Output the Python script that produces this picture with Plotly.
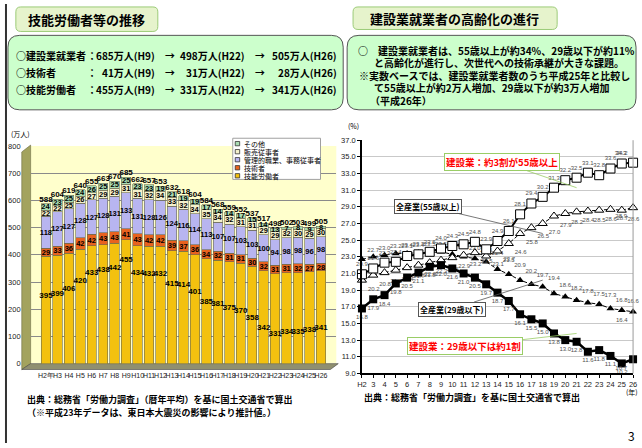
import plotly.graph_objects as go

W, H = 642, 448


def px_x(v):
    return v / W


def px_y(v):
    return 1 - v / H


# ---------------- left chart data (万人) ----------------
years_left = ["H2年", "H3", "H4", "H5", "H6", "H7", "H8", "H9", "H10", "H11", "H12", "H13",
              "H14", "H15", "H16", "H17", "H18", "H19", "H20", "H21", "H22", "H23", "H24", "H25", "H26"]
skilled = [395, 399, 406, 420, 433, 438, 442, 455, 434, 432, 432, 415, 414, 401, 385, 381, 375,
           370, 358, 342, 331, 334, 335, 338, 341]
engineers = [29, 33, 36, 42, 42, 43, 43, 41, 43, 42, 42, 39, 37, 36, 34, 32, 31, 31, 30, 32, 31,
             31, 32, 27, 28]
clerical = [118, 127, 127, 128, 127, 128, 131, 133, 131, 128, 126, 124, 116, 114, 113, 107, 107,
            103, 103, 100, 94, 98, 98, 96, 98]
sales = [22, 22, 25, 26, 27, 29, 29, 31, 31, 32, 34, 33, 32, 34, 35, 34, 32, 31, 31, 29, 29, 32,
         30, 29, 30]
other = [24, 23, 25, 24, 26, 25, 25, 25, 23, 23, 19, 21, 19, 19, 17, 14, 14, 17, 15, 14, 13, 7,
         8, 9, 8]
totals = [588, 604, 619, 640, 655, 663, 670, 685, 662, 657, 653, 632, 618, 604, 584, 568, 559,
          552, 537, 517, 498, 502, 503, 499, 505]
left_ticks = [0, 100, 200, 300, 400, 500, 600, 700, 800]

# ---------------- right chart data (%) ----------------
years_right = ["H2", "3", "4", "5", "6", "7", "8", "9", "10", "11", "12", "13", "14", "15", "16",
               "17", "18", "19", "20", "21", "22", "23", "24", "25", "26"]
con55 = [20.9, 21.6, 22.3, 22.4, 23.1, 23.3, 23.6, 24.0, 24.3, 24.5, 24.8, 23.9, 24.9, 26.1,
         28.1, 29.4, 30.2, 31.3, 32.2, 32.5, 33.1, 32.8, 33.6, 34.2, 34.3]
all55 = [20.2, 20.8, 21.1, 21.4, 21.7, 22.0, 22.3, 22.6, 22.9, 23.2, 23.5, 23.1, 23.7, 24.6,
         25.8, 26.5, 27.0, 27.9, 28.2, 28.4, 28.5, 28.6, 28.7, 28.6, 28.9]
con29 = [16.8, 17.9, 18.4, 19.8, 20.5, 21.1, 21.8, 22.0, 21.6, 21.0, 20.5, 19.7, 18.7, 17.7,
         16.1, 15.5, 15.0, 13.8, 13.0, 12.8, 11.6, 11.8, 11.1, 10.2, 10.7]
all29 = [22.7, 23.0, 23.2, 23.4, 23.4, 23.5, 23.5, 23.6, 23.3, 23.0, 22.8, 22.4, 21.5, 20.9,
         20.2, 19.7, 19.4, 18.6, 18.2, 17.8, 17.5, 17.3, 16.8, 16.6, 16.4]

col_skilled = "#f3c10f"
col_eng = "#e8621e"
col_cler = "#b8b5f0"
col_sales = "#f4f1cc"
col_other = "#a9dcb3"

FONT = "Noto Sans CJK JP"
NUMF = "Liberation Sans"

L_X0, L_X1, L_YB, L_YT = 26, 336, 367, 145
R_X0, R_X1, R_YB, R_YT = 362, 637, 377, 139
R_YMIN, R_YMAX = 9, 37

fig = go.Figure()

for name, vals, col in [("技能労働者", skilled, col_skilled), ("技術者", engineers, col_eng),
                        ("管理的職業、事務従事者", clerical, col_cler), ("販売従事者", sales, col_sales),
                        ("その他", other, col_other)]:
    show_text = name != "技能労働者"
    fig.add_trace(go.Bar(
        x=years_left, y=vals, name=name, xaxis="x", yaxis="y",
        marker=dict(color=col, line=dict(color="#6b6b50", width=0.6)),
        text=["<b>%d</b>" % v for v in vals] if show_text else None,
        textposition="inside" if show_text else "none",
        insidetextanchor="middle", textangle=0,
        textfont=dict(family=NUMF, size=7.5, color="black"),
        hoverinfo="x+y+name", showlegend=False))

skilled_label_pos = [2.2 * v - 620 for v in skilled]
fig.add_trace(go.Scatter(
    x=years_left, y=skilled_label_pos, mode="text", xaxis="x", yaxis="y",
    text=["<b>%d</b>" % v for v in skilled], textposition="middle center",
    textfont=dict(family=NUMF, size=8, color="black"), showlegend=False, hoverinfo="skip"))

fig.add_trace(go.Scatter(
    x=years_left, y=totals, mode="text", xaxis="x", yaxis="y",
    text=["<b>%d</b>" % v for v in totals], textposition="top center",
    textfont=dict(family=NUMF, size=8, color="black"), showlegend=False, hoverinfo="skip",
    cliponaxis=False))


def positions(default, last):
    return [default] * (len(years_right) - 1) + [last]


lab_font = dict(family=NUMF, size=6, color="#505050")
fig.add_trace(go.Scatter(
    x=years_right, y=all29, mode="lines+markers+text", xaxis="x2", yaxis="y2",
    name="全産業(29歳以下)", line=dict(color="black", width=1, dash="4px,2px"),
    marker=dict(symbol="triangle-up", size=7, color="black"),
    text=["%.1f" % v for v in all29], textposition=positions("top right", "bottom left"),
    textfont=lab_font, cliponaxis=False, showlegend=False))
fig.add_trace(go.Scatter(
    x=years_right, y=all55, mode="lines+markers+text", xaxis="x2", yaxis="y2",
    name="全産業(55歳以上)", line=dict(color="black", width=1, dash="4px,2px"),
    marker=dict(symbol="triangle-up", size=8, color="white", line=dict(color="black", width=1)),
    text=["%.1f" % v for v in all55], textposition=positions("bottom right", "bottom left"),
    textfont=lab_font, cliponaxis=False, showlegend=False))
fig.add_trace(go.Scatter(
    x=years_right, y=con29, mode="lines+markers+text", xaxis="x2", yaxis="y2",
    name="建設業(29歳以下)", line=dict(color="black", width=2.5),
    marker=dict(symbol="square", size=8, color="black"),
    text=["%.1f" % v for v in con29], textposition=positions("bottom center", "bottom left"),
    textfont=lab_font, cliponaxis=False, showlegend=False))
fig.add_trace(go.Scatter(
    x=years_right, y=con55, mode="lines+markers+text", xaxis="x2", yaxis="y2",
    name="建設業(55歳以上)", line=dict(color="black", width=2),
    marker=dict(symbol="square", size=9, color="white", line=dict(color="black", width=1)),
    text=["%.1f" % v for v in con55], textposition=positions("top center", "top left"),
    textfont=lab_font, cliponaxis=False, showlegend=False))

fig.update_layout(
    width=W, height=H, margin=dict(l=0, r=0, t=0, b=0),
    paper_bgcolor="white", plot_bgcolor="white",
    barmode="stack", bargap=0.18, showlegend=False,
    font=dict(family=FONT, size=8, color="black"),
    uniformtext=dict(minsize=7, mode="show"),
    xaxis=dict(domain=[px_x(L_X0), px_x(L_X1)], anchor="y", type="category",
               tickfont=dict(family=NUMF, size=7, color="#222"), tickangle=0, showgrid=False,
               showline=False, ticks="", fixedrange=True, ticklabelstandoff=6),
    yaxis=dict(domain=[px_y(L_YB), px_y(L_YT)], anchor="x", range=[0, 800], tickvals=left_ticks,
               showgrid=True, gridcolor="#8a8a8a", gridwidth=1, zeroline=False,
               tickfont=dict(family=NUMF, size=7.5, color="#222"), ticklabelstandoff=9,
               showline=False),
    xaxis2=dict(domain=[px_x(R_X0), px_x(R_X1)], anchor="y2", type="category", range=[0, 24],
                showgrid=False, showline=True, linecolor="black", linewidth=1.5,
                ticks="outside", ticklen=3, tickcolor="black", tickangle=0,
                tickfont=dict(family=NUMF, size=7.5, color="#222")),
    yaxis2=dict(domain=[px_y(R_YB), px_y(R_YT)], anchor="x2", range=[R_YMIN, R_YMAX], tick0=9,
                dtick=2, tickformat=".1f", showgrid=True, gridcolor="#c9c9c9", gridwidth=1,
                zeroline=False, showline=True, linecolor="black", linewidth=1.5,
                ticks="outside", ticklen=3, tickcolor="black",
                tickfont=dict(family=NUMF, size=7.5, color="#222")),
)


def rrect(x0, y0, x1, y1, r):
    return ("M {a},{b} L {c},{b} Q {d},{b} {d},{e} L {d},{f} Q {d},{g} {c},{g} "
            "L {a},{g} Q {h},{g} {h},{f} L {h},{e} Q {h},{b} {a},{b} Z").format(
        a=px_x(x0 + r), b=px_y(y0), c=px_x(x1 - r), d=px_x(x1), e=px_y(y0 + r),
        f=px_y(y1 - r), g=px_y(y1), h=px_x(x0))


def poly(pts):
    return "M " + " L ".join("%f,%f" % (px_x(a), px_y(b)) for a, b in pts) + " Z"


shapes = []
shapes.append(dict(type="line", xref="paper", yref="paper", x0=px_x(1), x1=px_x(1), y0=0, y1=1,
                   line=dict(color="#333333", width=2)))
shapes.append(dict(type="path", xref="paper", yref="paper", path=rrect(11, 3, 155, 28, 5),
                   fillcolor="#e6f3cc", line=dict(color="#9ccb78", width=1)))
shapes.append(dict(type="path", xref="paper", yref="paper", path=rrect(353, 3, 560, 26, 5),
                   fillcolor="#e6f3cc", line=dict(color="#9ccb78", width=1)))
shapes.append(dict(type="path", xref="paper", yref="paper", path=rrect(3, 32, 343, 108, 12),
                   fillcolor="#ccffcc", line=dict(color="#555555", width=1)))
shapes.append(dict(type="path", xref="paper", yref="paper", path=rrect(347, 32, 640, 108, 12),
                   fillcolor="#ccffcc", line=dict(color="#555555", width=1)))
shapes.append(dict(type="rect", xref="x domain", yref="y domain", x0=0, x1=1, y0=0, y1=1,
                   fillcolor="#ffffcc", line=dict(width=0), layer="below"))
shapes.append(dict(type="path", xref="paper", yref="paper",
                   path=poly([(17, 373), (17, 151), (26, 144), (26, 367)]),
                   fillcolor="#a3a35e", line=dict(color="#6b6b40", width=0.6), layer="below"))
shapes.append(dict(type="path", xref="paper", yref="paper",
                   path=poly([(17, 373), (26, 367), (338, 367), (330, 373)]),
                   fillcolor="#8f8f70", line=dict(color="#444", width=0.6), layer="below"))
shapes.append(dict(type="line", xref="paper", yref="paper", x0=px_x(R_X1), x1=px_x(R_X1),
                   y0=px_y(R_YB), y1=px_y(R_YT), line=dict(color="#9a9a9a", width=1)))
shapes.append(dict(type="rect", xref="paper", yref="paper", x0=px_x(231), x1=px_x(320),
                   y0=px_y(179), y1=px_y(137), fillcolor="white",
                   line=dict(color="#a0a0a0", width=1)))

annotations = []


def txt(x, y, s, size=10, anchor="left", color="black", family=FONT, bold=True):
    annotations.append(dict(x=px_x(x), y=px_y(y), xref="paper", yref="paper",
                            text=("<b>%s</b>" % s) if bold else s, showarrow=False,
                            xanchor=anchor, yanchor="middle",
                            font=dict(family=family, size=size, color=color)))


txt(83, 16, "技能労働者等の推移", size=13, anchor="center")
txt(456, 15, "建設業就業者の高齢化の進行", size=13, anchor="center")

rows_label = ["○建設業就業者", "○技術者", "○技能労働者"]
rows_h9 = ["685万人(H9)", "41万人(H9)", "455万人(H9)"]
rows_h22 = ["498万人(H22)", "31万人(H22)", "331万人(H22)"]
rows_h26 = ["505万人(H26)", "28万人(H26)", "341万人(H26)"]
for i, yy in enumerate([53, 70, 87]):
    txt(9, yy, rows_label[i], size=10)
    txt(88, yy, "：", size=10, anchor="center")
    txt(154, yy, rows_h9[i], size=10, anchor="right")
    txt(167, yy, "→", size=10, anchor="center")
    txt(245, yy, rows_h22[i], size=10, anchor="right")
    txt(259, yy, "→", size=10, anchor="center")
    txt(339, yy, rows_h26[i], size=10, anchor="right")

right_lines = [(356, 47, "○　建設業就業者は、55歳以上が約34%、29歳以下が約11%"),
               (372, 60, "と高齢化が進行し、次世代への技術承継が大きな課題。"),
               (357, 73, "※実数ベースでは、建設業就業者数のうち平成25年と比較し"),
               (372, 85, "て55歳以上が約2万人増加、29歳以下が約3万人増加"),
               (368, 98, "（平成26年）")]
for x, y, s in right_lines:
    txt(x, y, s, size=10)

txt(4, 133, "(万人)", size=7, bold=False)
txt(346, 124, "(%)", size=7, bold=False)
txt(628, 396, "(年)", size=7, bold=False)

txt(20, 404, "出典：総務省「労働力調査」（暦年平均）を基に国土交通省で算出", size=9)
txt(20, 417, "（※平成23年データは、東日本大震災の影響により推計値。）", size=9)
txt(362, 402, "出典：総務省「労働力調査」を基に国土交通省で算出", size=9)
txt(635, 440, "3", size=12, anchor="center", bold=False)

leg = [("その他", col_other), ("販売従事者", col_sales), ("管理的職業、事務従事者", col_cler),
       ("技術者", col_eng), ("技能労働者", col_skilled)]
for i, (name, col) in enumerate(leg):
    yy = 142.5 + i * 8.2
    shapes.append(dict(type="rect", xref="paper", yref="paper", x0=px_x(233.5), x1=px_x(238),
                       y0=px_y(yy + 2.2), y1=px_y(yy - 2.2), fillcolor=col,
                       line=dict(color="#333", width=0.8)))
    txt(240, yy, name, size=7, bold=False)

px_per_idx = (R_X1 - R_X0) / 24.0
px_per_val = (R_YB - R_YT) / float(R_YMAX - R_YMIN)


def callout(idx, series, box_idx, box_val, text, color, border, size):
    annotations.append(dict(
        x=years_right[idx], y=series[idx], xref="x2", yref="y2",
        text="<b>%s</b>" % text, showarrow=True, arrowhead=0, arrowwidth=0.8,
        arrowcolor=border, ax=(box_idx - idx) * px_per_idx,
        ay=-(box_val - series[idx]) * px_per_val,
        bgcolor="white", bordercolor=border, borderwidth=1, borderpad=1,
        font=dict(family=FONT, size=size, color=color)))


callout(14, all55, 4.0, 29.0, "全産業(55歳以上)", "black", "#555555", 8)
callout(14, all29, 6.1, 16.8, "全産業(29歳以下)", "black", "#555555", 8)
callout(17, con55, 10.5, 34.3, "建設業：約3割が55歳以上", "#ff0000", "#9acd66", 9.5)
callout(17, con29, 7.3, 12.3, "建設業：29歳以下は約1割", "#ff0000", "#9acd66", 9.5)

fig.update_layout(shapes=shapes, annotations=annotations)

fig.write_html("out.html", config={"displayModeBar": False},
               post_script="document.body.style.margin='0';")
